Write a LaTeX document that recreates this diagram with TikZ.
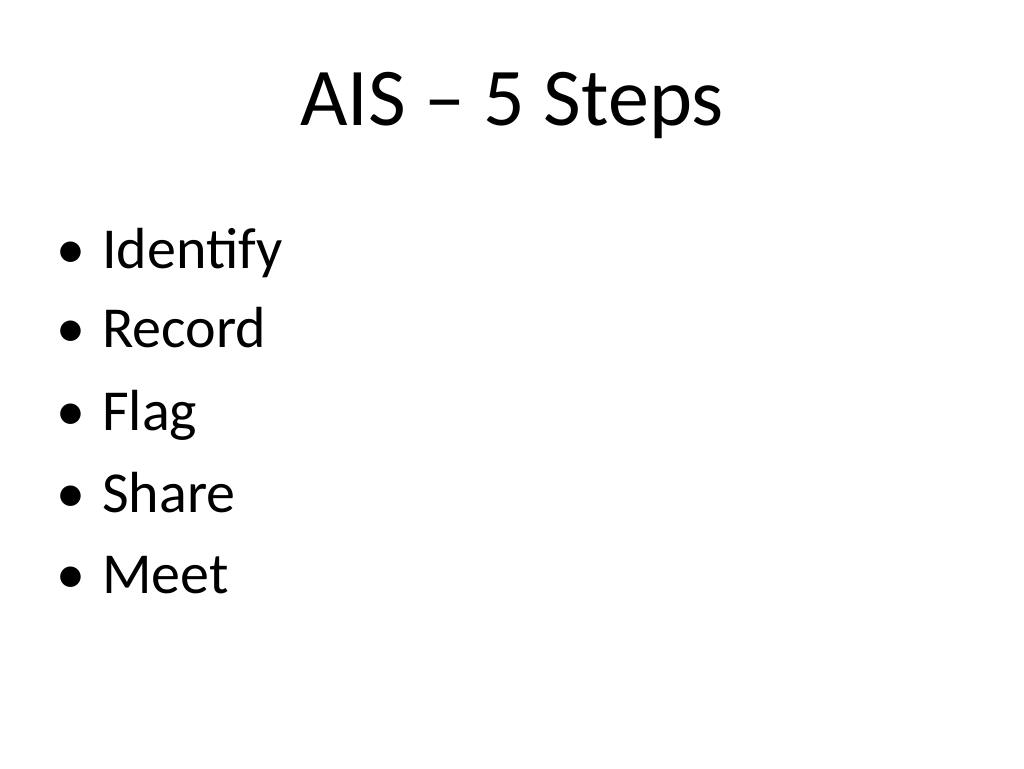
\documentclass[tikz,border=0pt]{standalone}
\usepackage{fontspec}
\setmainfont{Carlito}
\begin{document}
\begin{tikzpicture}[x=1pt,y=-1pt,
  item/.style={anchor=base west,inner sep=0pt,font=\fontsize{58}{60}\selectfont},
  dot/.style={anchor=base,inner sep=0pt,font=\fontsize{58}{60}\selectfont}]
\useasboundingbox (0,0) rectangle (1024,768);
\fill[white] (0,0) rectangle (1024,768);
\node[anchor=base,inner sep=0pt,font=\fontsize{82}{84}\selectfont] (title) at (512,125) {AIS – 5 Steps};
\foreach \t/\y/\n in {Identify/268/a,Record/347/b,Flag/430/c,Share/512/d,Meet/593/e}{
  \node[dot] (d\n) at (71,\y) {•};
  \node[item] (i\n) at (102,\y) {\t};
}
\end{tikzpicture}
\end{document}
